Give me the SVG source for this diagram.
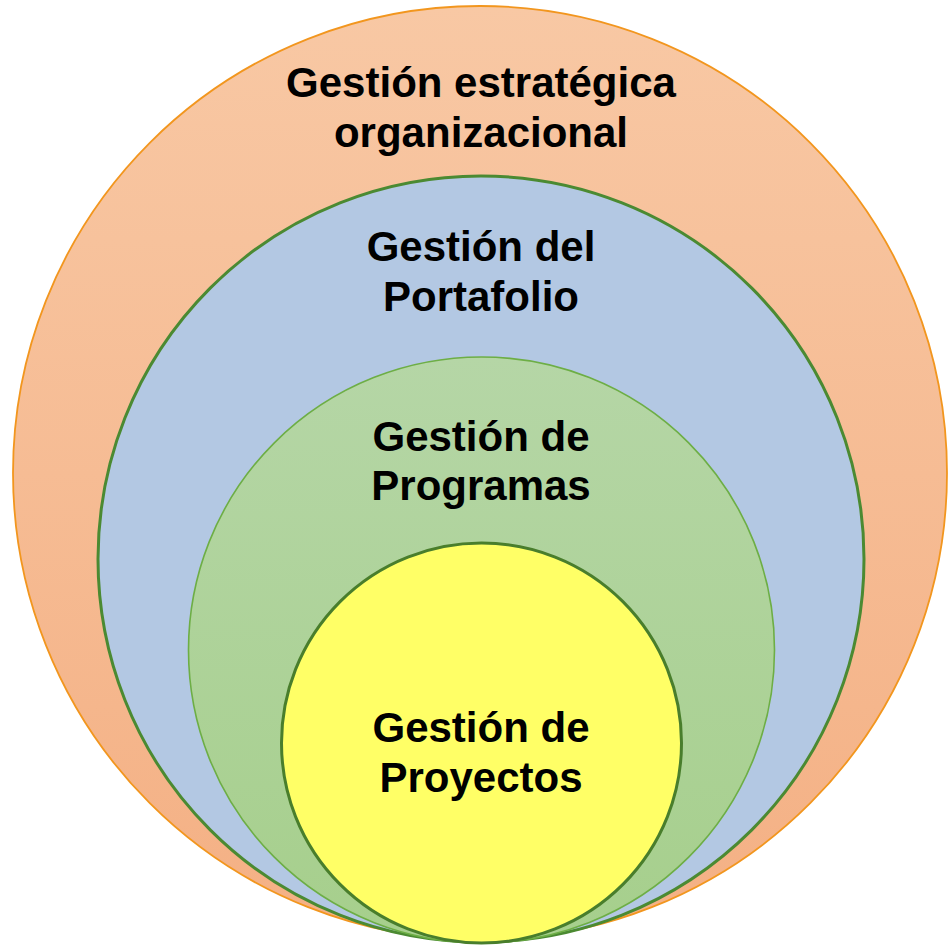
<svg xmlns="http://www.w3.org/2000/svg" width="948" height="946" viewBox="0 0 948 946">
<defs>
<linearGradient id="gOrange" x1="0" y1="0" x2="0" y2="1"><stop offset="0" stop-color="#F8C8A4"/><stop offset="1" stop-color="#F4B084"/></linearGradient>
<linearGradient id="gGreen" x1="0" y1="0" x2="0" y2="1"><stop offset="0" stop-color="#B5D6A6"/><stop offset="1" stop-color="#A6CF8C"/></linearGradient>
</defs>
<style>
.lbl{font-family:"Liberation Sans",Arial,sans-serif;font-weight:bold;font-size:42px;fill:#000;text-anchor:middle}
</style>
<g id="estrategica">
<circle cx="480" cy="473" r="467" fill="url(#gOrange)" stroke="#F2961E" stroke-width="1.8"/>
<text class="lbl" x="481" y="97">Gestión estratégica</text>
<text class="lbl" x="481" y="147">organizacional</text>
</g>
<g id="portafolio">
<circle cx="481" cy="559" r="383" fill="#B3C8E3" stroke="#4B8A32" stroke-width="3"/>
<text class="lbl" x="481" y="261">Gestión del</text>
<text class="lbl" x="481" y="311">Portafolio</text>
</g>
<g id="programas">
<circle cx="481.5" cy="650" r="293" fill="url(#gGreen)" stroke="#6DAE45" stroke-width="1.6"/>
<text class="lbl" x="481" y="451">Gestión de</text>
<text class="lbl" x="481" y="500">Programas</text>
</g>
<g id="proyectos">
<circle cx="481.5" cy="743" r="200" fill="#FFFF66" stroke="#497E2C" stroke-width="3"/>
<text class="lbl" x="481" y="742">Gestión de</text>
<text class="lbl" x="481" y="792">Proyectos</text>
</g>
<g id="connectors"/>
</svg>
